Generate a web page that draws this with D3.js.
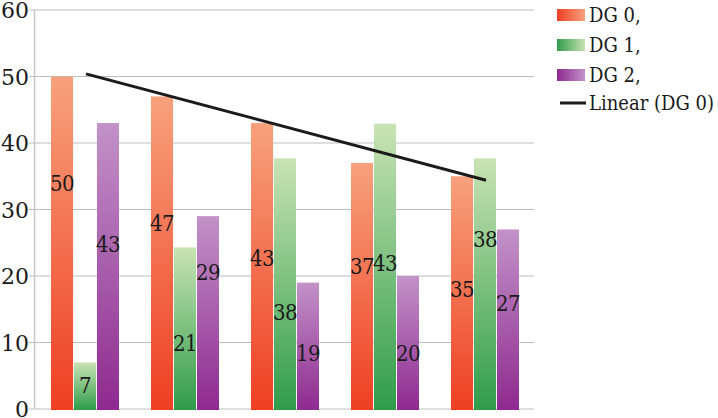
<!DOCTYPE html>
<html>
<head>
<meta charset="utf-8">
<script src="https://cdn.jsdelivr.net/npm/d3@7"></script>
<style>
  body { margin: 0; background: #fff; }
</style>
</head>
<body>
<div id="chart"></div>
<script>
// data
var groups = ["1", "2", "3", "4", "5"];
var seriesNames = ["DG 0,", "DG 1,", "DG 2,"];
var dg0 = [50, 47, 43, 37, 35];
var dg1 = [7, 24.3, 37.7, 42.9, 37.7];
var dg2 = [43, 29, 19, 20, 27];
// labels as printed (DG 1 second label differs from its bar)
var dg0Labels = ["50", "47", "43", "37", "35"];
var dg1Labels = ["7", "21", "38", "43", "38"];
var dg2Labels = ["43", "29", "19", "20", "27"];
// where each label sits, in axis units
var dg0LabelAt = [34, 28, 22.7, 21.5, 18];
var dg1LabelAt = [3.6, 10, 14.6, 22, 25.6];
var dg2LabelAt = [24.8, 20.6, 8.4, 8.4, 16];
var yTicks = [0, 10, 20, 30, 40, 50, 60];

var SERIF = "'DejaVu Serif', serif";
var NARROW = "'DejaVu Serif Condensed', 'DejaVu Serif', serif";

var colors = [
  { top: "#f7a17c", bottom: "#ee3f23" },
  { top: "#c9e3b4", bottom: "#2f9c4a" },
  { top: "#c292c8", bottom: "#8e2a8f" }
];

var series = [
  { values: dg0, labels: dg0Labels, at: dg0LabelAt },
  { values: dg1, labels: dg1Labels, at: dg1LabelAt },
  { values: dg2, labels: dg2Labels, at: dg2LabelAt }
];

var W = 718, H = 418;
var svg = d3.select("#chart").append("svg")
  .attr("width", W).attr("height", H);

var defs = svg.append("defs");
colors.forEach(function(c, i) {
  var g = defs.append("linearGradient").attr("id", "bar" + i)
    .attr("x1", 0).attr("y1", 0).attr("x2", 0).attr("y2", 1);
  g.append("stop").attr("offset", "0%").attr("stop-color", c.top);
  g.append("stop").attr("offset", "100%").attr("stop-color", c.bottom);
  var l = defs.append("linearGradient").attr("id", "leg" + i)
    .attr("x1", 0).attr("y1", 0).attr("x2", 1).attr("y2", 0);
  l.append("stop").attr("offset", "0%").attr("stop-color", c.bottom);
  l.append("stop").attr("offset", "100%").attr("stop-color", c.top);
});

var y = d3.scaleLinear().domain([0, 60]).range([409, 10]);
var x = d3.scaleBand().domain(groups).range([34, 534]);
var xs = d3.scaleBand().domain([0, 1, 2]).range([17, 85]).paddingInner(0.04);

// gridlines + ticks
svg.append("g").selectAll("line").data(yTicks).enter().append("line")
  .attr("x1", 29).attr("x2", 534)
  .attr("y1", function(d) { return y(d); })
  .attr("y2", function(d) { return y(d); })
  .attr("stroke", "#bdbdbd").attr("stroke-width", 1);

svg.append("line")
  .attr("x1", 34.5).attr("x2", 34.5).attr("y1", y(60)).attr("y2", y(0))
  .attr("stroke", "#c8c8c8").attr("stroke-width", 1.5);

svg.append("g").selectAll("text").data(yTicks).enter().append("text")
  .attr("x", 29).attr("y", function(d) { return y(d) + 8; })
  .attr("text-anchor", "end")
  .style("font-family", SERIF)
  .attr("font-size", "22px").attr("fill", "#1a1a1a")
  .text(function(d) { return d; });

// bars
series.forEach(function(s, si) {
  var g = svg.append("g");
  g.selectAll("rect").data(s.values).enter().append("rect")
    .attr("x", function(d, i) { return x(groups[i]) + xs(si); })
    .attr("width", xs.bandwidth())
    .attr("y", function(d) { return y(d); })
    .attr("height", function(d) { return y(0) - y(d) + 1; })
    .attr("fill", "url(#bar" + si + ")");
});

// labels
series.forEach(function(s, si) {
  svg.append("g").selectAll("text").data(s.labels).enter().append("text")
    .attr("x", function(d, i) { return x(groups[i]) + xs(si) + xs.bandwidth() / 2; })
    .attr("y", function(d, i) { return y(s.at[i]) + 8; })
    .attr("text-anchor", "middle")
    .style("font-family", NARROW)
    .attr("font-size", "22px").attr("letter-spacing", "-0.5px").attr("fill", "#1a1a1a")
    .text(function(d) { return d; });
});

// linear trend of DG 0
var n = dg0.length;
var mx = d3.mean(dg0, function(d, i) { return i + 1; });
var my = d3.mean(dg0);
var sxy = d3.sum(dg0, function(d, i) { return (i + 1 - mx) * (d - my); });
var sxx = d3.sum(dg0, function(d, i) { return (i + 1 - mx) * (i + 1 - mx); });
var slope = sxy / sxx, icpt = my - slope * mx;
var trend = [1, n].map(function(k) {
  return [x(groups[k - 1]) + x.bandwidth() / 2 + 2, y(icpt + slope * k)];
});
svg.append("path")
  .attr("d", d3.line()(trend))
  .attr("stroke", "#1a1a1a").attr("stroke-width", 3).attr("fill", "none");

// legend
var leg = svg.append("g").style("font-family", NARROW);
seriesNames.forEach(function(name, i) {
  var yy = 9 + i * 30;
  leg.append("rect").attr("x", 557).attr("y", yy).attr("width", 28).attr("height", 12)
    .attr("fill", "url(#leg" + i + ")");
  leg.append("text").attr("x", 589).attr("y", yy + 13)
    .attr("font-size", "20px").attr("fill", "#1a1a1a").text(name);
});
leg.append("line").attr("x1", 560).attr("x2", 586).attr("y1", 103).attr("y2", 103)
  .attr("stroke", "#1a1a1a").attr("stroke-width", 3);
leg.append("text").attr("x", 589).attr("y", 110)
  .attr("font-size", "20px").attr("fill", "#1a1a1a").text("Linear (DG 0)");
</script>
</body>
</html>
